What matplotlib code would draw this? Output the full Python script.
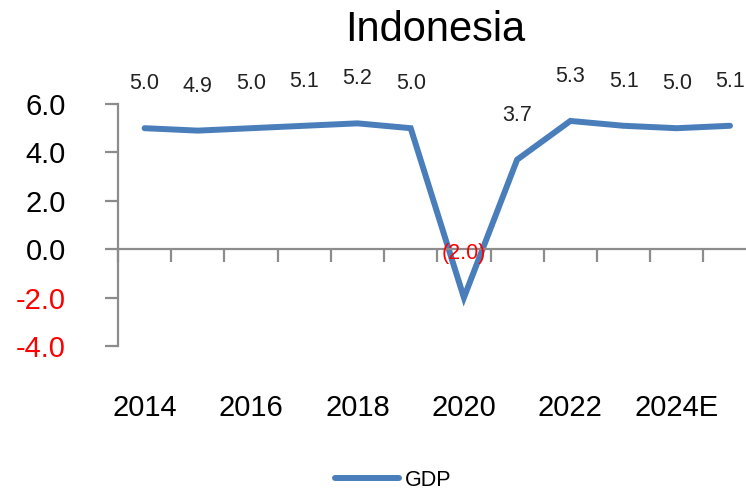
import matplotlib
matplotlib.use("Agg")
import matplotlib.pyplot as plt
from matplotlib.ticker import FixedLocator

plt.rcParams['font.family'] = ['Liberation Sans', 'DejaVu Sans']

years = ['2014', '2015', '2016', '2017', '2018', '2019', '2020', '2021', '2022', '2023', '2024E', '2025E']
gdp = [5.0, 4.9, 5.0, 5.1, 5.2, 5.0, -2.0, 3.7, 5.3, 5.1, 5.0, 5.1]
data_labels = ['5.0', '4.9', '5.0', '5.1', '5.2', '5.0', '(2.0)', '3.7', '5.3', '5.1', '5.0', '5.1']
yticks = [-4.0, -2.0, 0.0, 2.0, 4.0, 6.0]

W, H = 746, 492
fig = plt.figure(figsize=(W / 100, H / 100), dpi=100)
ax = fig.add_axes([118 / W, 146 / H, 638.6 / W, 242 / H])

blue = '#4a7ebb'
gray = '#8c8c8c'
x = list(range(len(years)))
ax.plot(x, gdp, color=blue, lw=4.3, solid_joinstyle='miter', solid_capstyle='round',
        label='GDP', clip_on=False)

ax.set_xlim(-0.5, len(years) - 0.5)
ax.set_ylim(-4, 6)

for s in ['top', 'right']:
    ax.spines[s].set_visible(False)
ax.spines['bottom'].set_position(('data', 0))
ax.spines['bottom'].set_color(gray)
ax.spines['left'].set_color(gray)
ax.spines['bottom'].set_linewidth(1.6)
ax.spines['left'].set_linewidth(1.6)

ax.set_yticks(yticks)
ax.set_yticklabels([f'{v:.1f}' for v in yticks])
for lbl, v in zip(ax.get_yticklabels(), yticks):
    lbl.set_color('red' if v < 0 else 'black')
ax.tick_params(axis='y', direction='out', length=9.5, width=1.6, color=gray,
               labelsize=21, pad=28)

# x: major ticks at categories (labels only), minor at boundaries (marks)
ax.xaxis.set_major_locator(FixedLocator(x[::2]))
ax.set_xticklabels(years[::2])
ax.xaxis.set_minor_locator(FixedLocator([i - 0.5 for i in range(len(years) + 1)]))
ax.tick_params(axis='x', which='major', length=0, labelsize=21, pad=104)
ax.tick_params(axis='x', which='minor', direction='out', length=9.5, width=1.6, color=gray)

for xi, yi, t in zip(x, gdp, data_labels):
    ax.annotate(t, (xi, yi), xytext=(0, 32), textcoords='offset points',
                ha='center', va='center', fontsize=15.5,
                color='red' if yi < 0 else '#222222')

fig.text(435 / W, 1 - 30 / H, 'Indonesia', ha='center', va='center', fontsize=30)

fig.legend(loc='center', bbox_to_anchor=(393 / W, 1 - 480 / H), frameon=False,
           fontsize=15.5, handlelength=3.0, handletextpad=0.25)

fig.savefig('out.png', dpi=100)
